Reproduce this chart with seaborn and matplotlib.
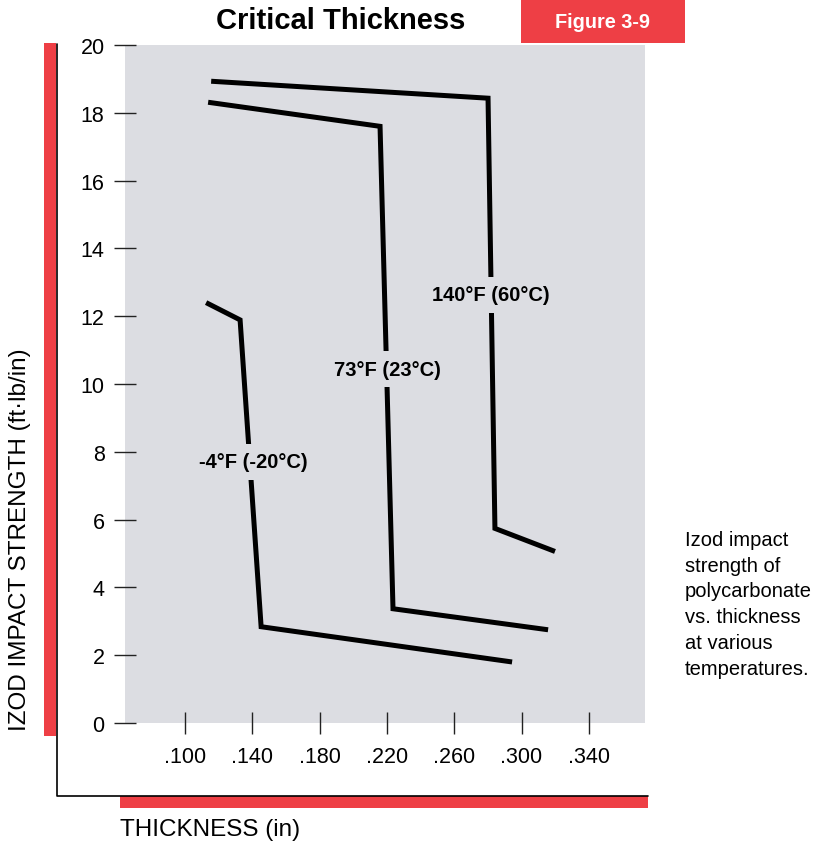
import numpy as np
import pandas as pd
import seaborn as sns
import matplotlib.pyplot as plt
from matplotlib.patches import Rectangle
from matplotlib.lines import Line2D

# curve data (thickness in inches, izod ft-lb/in)
temps = ["140°F (60°C)", "73°F (23°C)", "-4°F (-20°C)"]
thick_140 = [0.1155, 0.2801, 0.2842, 0.3199]
izod_140 = [18.93, 18.43, 5.74, 5.06]
thick_73 = [0.1137, 0.2159, 0.2236, 0.3158]
izod_73 = [18.31, 17.60, 3.37, 2.75]
thick_m4 = [0.1125, 0.1327, 0.1452, 0.2944]
izod_m4 = [12.40, 11.89, 2.84, 1.80]

# where the curve labels sit
label_x = [0.2819, 0.2201, 0.1404]
label_y = [12.63, 10.44, 7.70]

x_ticks = [0.100, 0.140, 0.180, 0.220, 0.260, 0.300, 0.340]
x_ticklabels = [".100", ".140", ".180", ".220", ".260", ".300", ".340"]
y_ticks = [0, 2, 4, 6, 8, 10, 12, 14, 16, 18, 20]

red = "#ee3f45"
gray = "#dcdde2"

sns.set_style("white")
plt.rcParams['font.family'] = ['Liberation Sans', 'DejaVu Sans']
plt.rcParams['text.color'] = 'black'

df = pd.concat([
    pd.DataFrame({"thickness": thick_140, "izod": izod_140, "temp": temps[0]}),
    pd.DataFrame({"thickness": thick_73, "izod": izod_73, "temp": temps[1]}),
    pd.DataFrame({"thickness": thick_m4, "izod": izod_m4, "temp": temps[2]}),
])

fig = plt.figure(figsize=(8.21, 8.45), dpi=100)
ax = fig.add_axes([0.1523, 0.1432, 0.6333, 0.8024])
ax.set_facecolor(gray)

sns.lineplot(data=df, x="thickness", y="izod", hue="temp", palette=["black"] * 3,
             sort=False, estimator=None, linewidth=3.6, legend=False, ax=ax)
for line in ax.lines:
    line.set_solid_joinstyle("miter")
    line.set_solid_capstyle("butt")

for t, lx, ly in zip(temps, label_x, label_y):
    ax.text(lx, ly, t, ha="center", va="center", fontsize=14.5, fontweight="bold",
            color="black", bbox=dict(facecolor=gray, edgecolor="none", pad=6))

ax.set_xlim(0.0643, 0.3734)
ax.set_ylim(0, 20)
ax.set_xticks(x_ticks)
ax.set_xticklabels(x_ticklabels)
ax.set_yticks(y_ticks)
ax.tick_params(axis="x", bottom=True, direction="inout", length=16.5, width=1.0,
               color="#222222", labelcolor="black", labelsize=15.5, pad=8)
ax.tick_params(axis="y", left=True, direction="inout", length=16.5, width=1.0,
               color="#222222", labelcolor="black", labelsize=15.5, pad=6.5)
for s in ax.spines.values():
    s.set_visible(False)
ax.set_xlabel("")
ax.set_ylabel("")

W, H = 821, 845
def fx(px):
    return px / W
def fy(py):
    return 1 - py / H

# red bar on the left and black corner line
fig.patches.append(Rectangle((fx(44), fy(737)), fx(12), (737 - 44) / H,
                             transform=fig.transFigure, facecolor=red, edgecolor="none"))
fig.lines.append(Line2D([fx(57), fx(57), fx(648)], [fy(45), fy(797), fy(797)],
                        transform=fig.transFigure, color="black", linewidth=1.2))
fig.patches.append(Rectangle((fx(120), fy(809)), fx(528), 12 / H,
                             transform=fig.transFigure, facecolor=red, edgecolor="none"))

# figure tag box
fig.patches.append(Rectangle((fx(521), fy(44)), fx(164), 44 / H,
                             transform=fig.transFigure, facecolor=red, edgecolor="none"))
fig.text(fx(602), fy(22), "Figure 3-9", color="white", fontsize=14.3, fontweight="bold",
         ha="center", va="center")

fig.text(fx(341), fy(21), "Critical Thickness", fontsize=21, fontweight="bold",
         ha="center", va="center")

fig.text(fx(20), fy(540), "IZOD IMPACT STRENGTH (ft·lb/in)", rotation=90, fontsize=17.5,
         ha="center", va="center")
fig.text(fx(120), fy(830), "THICKNESS (in)", fontsize=17.5, ha="left", va="center")

fig.text(fx(685), fy(531), "Izod impact\nstrength of\npolycarbonate\nvs. thickness\nat various\ntemperatures.",
         fontsize=14.5, ha="left", va="top", linespacing=1.45)

fig.savefig("out.png", dpi=100)
